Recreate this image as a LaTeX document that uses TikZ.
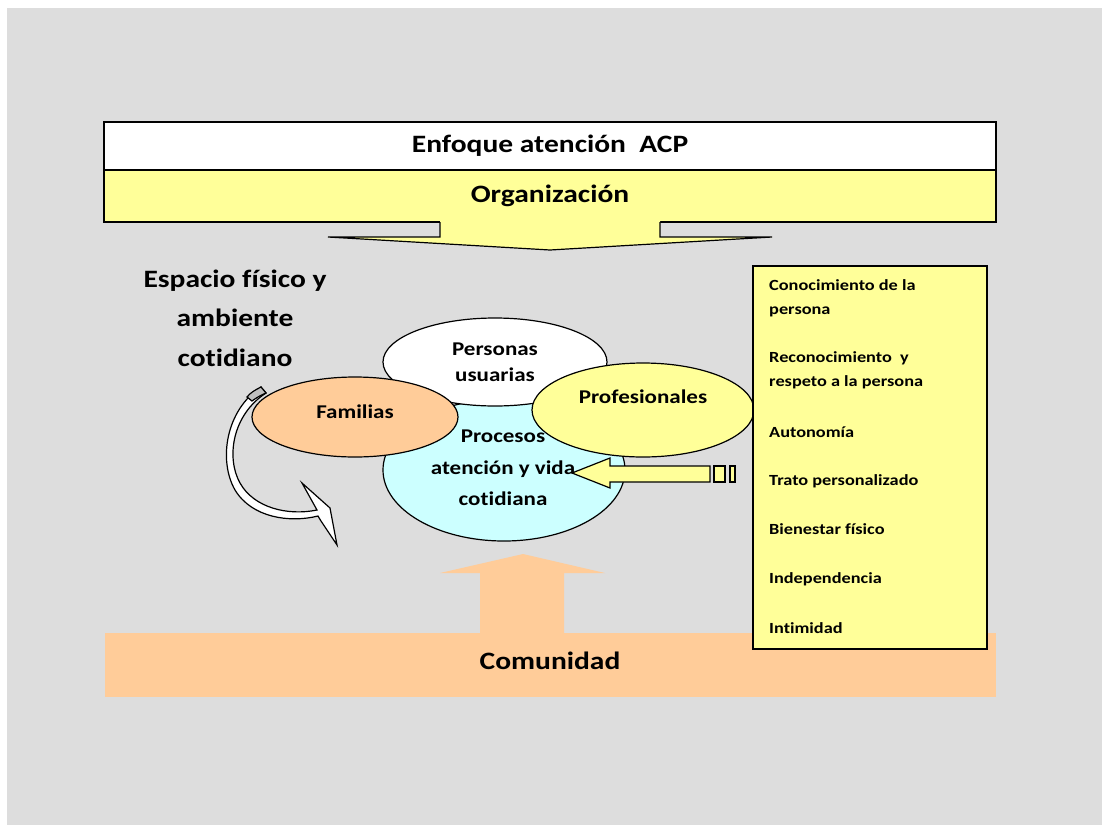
\documentclass[tikz,border=0pt]{standalone}
\usepackage{fontspec}
\setmainfont{Carlito}[FakeStretch=1.18, Ligatures=NoCommon]
\usetikzlibrary{shapes.geometric}

\definecolor{bggray}{HTML}{DDDDDD}
\definecolor{paleyellow}{HTML}{FFFF99}
\definecolor{palecyan}{HTML}{CCFFFF}
\definecolor{paleorange}{HTML}{FFCC99}

\tikzset{
  band/.style={draw=black, line width=1.6pt, minimum width=892pt, inner sep=0pt,
    font=\bfseries\fontsize{25}{28}\selectfont},
  blob/.style={ellipse, draw=black, line width=1.2pt, inner sep=0pt},
  lbl/.style={align=center, inner sep=0pt, font=\bfseries\fontsize{19.5}{26}\selectfont},
  item/.style={anchor=west, align=left, inner sep=0pt, font=\bfseries\fontsize{15.5}{24}\selectfont},
  blockarrow/.style={draw=black, line width=1.2pt, line join=miter}
}

\begin{document}
\begin{tikzpicture}[x=1pt, y=-1pt]
\useasboundingbox (0,0) rectangle (1102,825);
\fill[bggray] (7,8) rectangle (1102,825);

% top bands
\node[band, fill=white, minimum height=48pt] (enfoque) at (550,146) {Enfoque atención~~ACP};
\node[band, fill=paleyellow, minimum height=52pt] (organizacion) at (550,196) {Organización};

% arrow down from the organisation
\fill[paleyellow] (440,220) -- (440,237) -- (328,237) -- (550,250) -- (772,237) -- (660,237) -- (660,220) -- cycle;
\draw[blockarrow] (440,222) -- (440,237) -- (328,237) -- (550,250) -- (772,237) -- (660,237) -- (660,222);

% community band and arrow up
\fill[paleorange] (480,635) -- (480,573) -- (440,573) -- (523,554) -- (605,573) -- (564,573) -- (564,635) -- cycle;
\node[fill=paleorange, minimum width=891pt, minimum height=64pt, inner sep=0pt] (comunidad) at (550.5,665) {};
\node[font=\bfseries\fontsize{25}{28}\selectfont, inner sep=0pt] (comunidadtxt) at (550,661) {Comunidad};

% physical space
\node[align=center, inner sep=0pt, font=\bfseries\fontsize{25}{39.5}\selectfont] (espacio) at (235,318)
  {Espacio físico y\\ambiente\\cotidiano};

% curved arrow
\draw[fill=white, line width=1.2pt, line join=miter]
  (261,387) .. controls (226,410) and (218,460) .. (235,490)
  .. controls (252,518) and (290,523) .. (318,516)
  -- (321,521) -- (337,545) -- (330,508) -- (302,483) -- (317,510)
  .. controls (288,516) and (254,508) .. (240,483)
  .. controls (226,458) and (232,415) .. (266,393) -- cycle;
\draw[fill=lightgray, line width=1.2pt]
  (261,387) .. controls (255,390) and (250,393) .. (247,397) -- (252,401)
  .. controls (256,398) and (261,395) .. (266,393) -- cycle;

% ellipses
\node[blob, fill=palecyan, minimum width=242pt, minimum height=142pt] (procesos) at (504,470) {};
\node[blob, fill=white, minimum width=224pt, minimum height=88pt] (personas) at (495,362) {};
\node[blob, fill=paleorange, minimum width=206pt, minimum height=80pt] (familias) at (355,417) {};
\node[blob, fill=paleyellow, minimum width=222pt, minimum height=94pt] (profesionales) at (643,410) {};

\node[lbl] (personastxt) at (495,362) {Personas\\usuarias};
\node[lbl, font=\bfseries\fontsize{19.5}{31.5}\selectfont] (procesostxt) at (503,468) {Procesos\\atención y vida\\cotidiana};
\node[lbl] (familiastxt) at (355,412) {Familias};
\node[lbl] (profesionalestxt) at (643,397) {Profesionales};

% striped arrow into the processes
\draw[blockarrow, fill=paleyellow] (572,473) -- (610,458) -- (610,466) -- (710,466) -- (710,482)
  -- (610,482) -- (610,488) -- cycle;
\draw[blockarrow, fill=paleyellow] (714,466) rectangle (725,482);
\draw[blockarrow, fill=paleyellow] (730,466) rectangle (735,482);

% values box
\node[draw=black, line width=1.5pt, fill=paleyellow, minimum width=234pt, minimum height=383pt,
  inner sep=0pt] (valores) at (870,457.5) {};
\foreach \y/\txt [count=\i] in {298/{Conocimiento de la\\persona}, 370/{Reconocimiento~~y\\respeto a la persona},
  432/Autonomía, 481/Trato personalizado, 529/Bienestar físico, 579/Independencia, 628/Intimidad}
  \node[item] (item\i) at (769,\y) {\txt};
\end{tikzpicture}
\end{document}
